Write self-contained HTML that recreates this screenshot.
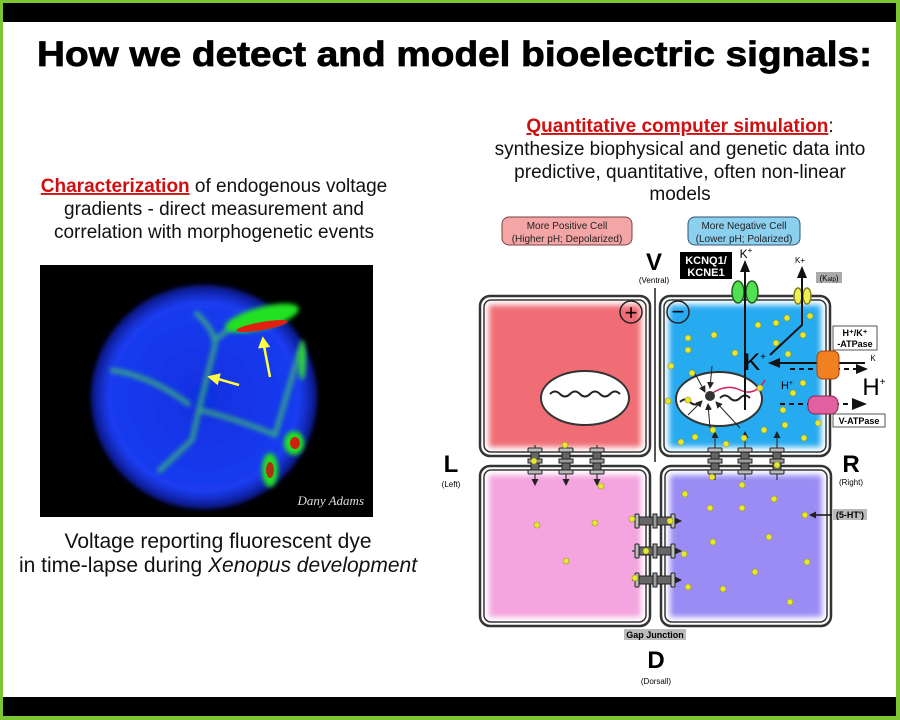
<!DOCTYPE html>
<html><head><meta charset="utf-8"><style>html,body{margin:0;padding:0;background:#fff}svg{display:block}</style></head><body>
<svg width="900" height="720" viewBox="0 0 900 720" xmlns="http://www.w3.org/2000/svg" font-family="Liberation Sans, sans-serif">
<defs>
<filter id="bl" x="-10%" y="-10%" width="120%" height="120%"><feGaussianBlur stdDeviation="3"/></filter>
<filter id="bl2" x="-30%" y="-30%" width="160%" height="160%"><feGaussianBlur stdDeviation="2.5"/></filter>
<radialGradient id="sph" cx="50%" cy="50%" r="50%"><stop offset="0" stop-color="#1030e0"/><stop offset="0.85" stop-color="#1a3cf0"/><stop offset="1" stop-color="#0a1680"/></radialGradient>
<marker id="ah" markerUnits="userSpaceOnUse" markerWidth="12" markerHeight="12" refX="10" refY="6" orient="auto"><path d="M0,1 L12,6 L0,11 z" fill="#111"/></marker>
<marker id="ahs" markerUnits="userSpaceOnUse" markerWidth="7" markerHeight="7" refX="6" refY="3.5" orient="auto"><path d="M0,0 L7,3.5 L0,7 z" fill="#222"/></marker>
<g id="dot"><circle r="3" fill="#e8e830" stroke="#999920" stroke-width="0.6"/></g>
<g id="gjv"><rect x="-4" y="-13" width="8" height="26" fill="#666" stroke="#222"/><rect x="-7" y="-13" width="14" height="4" rx="1" fill="#bbb" stroke="#222"/><rect x="-7" y="9" width="14" height="4" rx="1" fill="#bbb" stroke="#222"/><rect x="-7" y="-2" width="14" height="4" fill="#999" stroke="#222"/></g>
<g id="gjh"><rect x="-20" y="-4" width="40" height="8" fill="#666" stroke="#222"/><rect x="-20" y="-7" width="4" height="14" rx="1" fill="#bbb" stroke="#222"/><rect x="16" y="-7" width="4" height="14" rx="1" fill="#bbb" stroke="#222"/><rect x="-2" y="-7" width="4" height="14" fill="#999" stroke="#222"/></g>
</defs>
<rect width="900" height="720" fill="#fff"/>
<rect x="0" y="0" width="900" height="3" fill="#7cc634"/>
<rect x="0" y="0" width="3" height="720" fill="#7cc634"/>
<rect x="896" y="0" width="4" height="720" fill="#7cc634"/>
<rect x="0" y="716" width="900" height="4" fill="#7cc634"/>
<rect x="3" y="3" width="893" height="19" fill="#000"/>
<rect x="3" y="697" width="893" height="19" fill="#000"/>
<text x="37" y="66" font-size="35" font-weight="bold" stroke="#000" stroke-width="0.8" textLength="835" lengthAdjust="spacingAndGlyphs">How we detect and model bioelectric signals:</text>
<g font-size="19" text-anchor="middle" fill="#111">
<text x="214" y="192"><tspan fill="#d01010" font-weight="bold" text-decoration="underline">Characterization</tspan> of endogenous voltage</text>
<text x="214" y="215">gradients - direct measurement and</text>
<text x="214" y="238">correlation with morphogenetic events</text>
<text x="680" y="132"><tspan fill="#d01010" font-weight="bold" text-decoration="underline">Quantitative computer simulation</tspan>:</text>
<text x="680" y="155">synthesize biophysical and genetic data into</text>
<text x="680" y="178">predictive, quantitative, often non-linear</text>
<text x="680" y="200">models</text>
</g>
<g font-size="21" text-anchor="middle" fill="#111">
<text x="218" y="548">Voltage reporting fluorescent dye</text>
<text x="218" y="572">in time-lapse during <tspan font-style="italic">Xenopus development</tspan></text>
</g>
<!-- photo -->
<rect x="40" y="265" width="333" height="252" fill="#000"/>
<ellipse cx="204" cy="397" rx="113" ry="112" fill="url(#sph)" filter="url(#bl2)"/>
<g fill="none" stroke="#3cc070" stroke-width="5" opacity="0.75" filter="url(#bl2)">
<path d="M195,312 Q215,330 215,345 L200,405 L192,440 L158,472"/>
<path d="M110,370 Q150,375 190,405"/>
<path d="M200,410 Q240,420 275,435 L300,350"/>
<path d="M215,340 Q240,320 250,320"/>
</g>
<ellipse cx="262" cy="318" rx="38" ry="11" transform="rotate(-15 262 318)" fill="#20e020" filter="url(#bl2)"/>
<ellipse cx="262" cy="326" rx="26" ry="4" transform="rotate(-10 262 326)" fill="#e02010"/>
<ellipse cx="294" cy="443" rx="10" ry="12" fill="#20e020" filter="url(#bl2)"/>
<ellipse cx="295" cy="443" rx="5" ry="6" fill="#d02010"/>
<ellipse cx="270" cy="470" rx="8" ry="17" fill="#20e020" filter="url(#bl2)"/>
<ellipse cx="270" cy="470" rx="4" ry="8" fill="#b03010"/>
<ellipse cx="302" cy="360" rx="4" ry="20" fill="#30d040" filter="url(#bl2)"/>
<g stroke="#ffff40" stroke-width="2.5" fill="#ffff40">
<line x1="270" y1="377" x2="264" y2="346"/><path d="M260,347 L263,339 L268,346z"/>
<line x1="239" y1="385" x2="218" y2="379"/><path d="M219,375 L210,377 L217,383z"/>
</g>
<text x="364" y="505" font-family="Liberation Serif, serif" font-style="italic" font-size="13" fill="#ddd" text-anchor="end">Dany Adams</text>
<!-- labels -->
<rect x="502" y="217" width="130" height="28" rx="7" fill="#f4a6a6" stroke="#7a4040"/>
<text x="567" y="229" font-size="10" text-anchor="middle" fill="#222">More Positive Cell</text>
<text x="567" y="242" font-size="10" text-anchor="middle" fill="#222">(Higher pH; Depolarized)</text>
<rect x="688" y="217" width="112" height="28" rx="7" fill="#8cd0f0" stroke="#305070"/>
<text x="744" y="229" font-size="10" text-anchor="middle" fill="#222">More Negative Cell</text>
<text x="744" y="242" font-size="10" text-anchor="middle" fill="#222">(Lower pH; Polarized)</text>
<text x="654" y="270" font-size="24" font-weight="bold" text-anchor="middle">V</text>
<text x="654" y="283" font-size="8" text-anchor="middle">(Ventral)</text>
<text x="451" y="472" font-size="24" font-weight="bold" text-anchor="middle">L</text>
<text x="451" y="487" font-size="8" text-anchor="middle">(Left)</text>
<text x="851" y="472" font-size="24" font-weight="bold" text-anchor="middle">R</text>
<text x="851" y="485" font-size="8" text-anchor="middle">(Right)</text>
<text x="656" y="668" font-size="24" font-weight="bold" text-anchor="middle">D</text>
<text x="656" y="684" font-size="8" text-anchor="middle">(Dorsall)</text>
<rect x="624" y="629" width="62" height="11" fill="#bbb"/>
<text x="655" y="638" font-size="9" font-weight="bold" text-anchor="middle">Gap Junction</text>
<line x1="655" y1="288" x2="655" y2="462" stroke="#555" stroke-width="2"/>
<!-- cells -->
<g stroke="#333" fill="#fff">
<rect x="480" y="296" width="170" height="160" rx="10" stroke-width="2.5"/>
<rect x="484" y="300" width="162" height="152" rx="7" stroke-width="1.5"/>
<rect x="660" y="296" width="170" height="160" rx="10" stroke-width="2.5"/>
<rect x="664" y="300" width="162" height="152" rx="7" stroke-width="1.5"/>
<rect x="480" y="466" width="170" height="160" rx="10" stroke-width="2.5"/>
<rect x="484" y="470" width="162" height="152" rx="7" stroke-width="1.5"/>
<rect x="661" y="466" width="170" height="160" rx="10" stroke-width="2.5"/>
<rect x="665" y="470" width="162" height="152" rx="7" stroke-width="1.5"/>
</g>
<rect x="489" y="305" width="152" height="142" fill="#f06d75" filter="url(#bl)"/>
<rect x="669" y="305" width="152" height="142" fill="#28aaf0" filter="url(#bl)"/>
<rect x="489" y="475" width="152" height="142" fill="#f4a4de" filter="url(#bl)"/>
<rect x="670" y="475" width="152" height="142" fill="#9a8cf4" filter="url(#bl)"/>
<!-- plus minus -->
<circle cx="631" cy="312" r="11" fill="none" stroke="#222" stroke-width="1.5"/>
<text x="631" y="320" font-size="22" text-anchor="middle">+</text>
<circle cx="678" cy="312" r="11" fill="none" stroke="#222" stroke-width="1.5"/>
<text x="678" y="319" font-size="22" text-anchor="middle">−</text>
<!-- nuclei -->
<ellipse cx="585" cy="398" rx="44" ry="27" fill="#fff" stroke="#333" stroke-width="2"/>
<path d="M550,394 q5,-5 10,0 t10,0 t10,0 t10,0 t10,0 t10,0 t10,0" fill="none" stroke="#222" stroke-width="2"/>
<ellipse cx="719" cy="399" rx="43" ry="27" fill="#fff" stroke="#333" stroke-width="2"/>
<path d="M680,402 q5,-5 10,0 t10,0 M720,398 q5,-5 10,0 t10,0 t10,0" fill="none" stroke="#222" stroke-width="2"/>
<path d="M710,395 q15,-12 30,-5 t25,-10" fill="none" stroke="#d02060" stroke-width="1.5"/>
<circle cx="710" cy="396" r="5" fill="#333"/>
<g stroke="#222" stroke-width="1" marker-end="url(#ahs)">
<line x1="693" y1="370" x2="705" y2="392"/><line x1="712" y1="366" x2="710" y2="388"/><line x1="688" y1="415" x2="702" y2="401"/><line x1="710" y1="428" x2="708" y2="404"/><line x1="740" y1="428" x2="716" y2="402"/>
</g>
<!-- channels top -->
<ellipse cx="738" cy="292" rx="6" ry="11" fill="#50e050" stroke="#206020" stroke-width="1.5"/>
<ellipse cx="752" cy="292" rx="6" ry="11" fill="#50e050" stroke="#206020" stroke-width="1.5"/>
<ellipse cx="798" cy="296" rx="4" ry="8" fill="#f0f050" stroke="#808020" stroke-width="1.5"/>
<ellipse cx="807" cy="296" rx="4" ry="8" fill="#f0f050" stroke="#808020" stroke-width="1.5"/>
<line x1="745" y1="410" x2="745" y2="262" stroke="#111" stroke-width="2" marker-end="url(#ah)"/>
<polyline points="770,355 802,325 802,268" fill="none" stroke="#111" stroke-width="2" marker-end="url(#ah)"/>
<text x="746" y="258" font-size="12" text-anchor="middle">K<tspan font-size="8" dy="-5">+</tspan></text>
<text x="800" y="263" font-size="8" text-anchor="middle">K+</text>
<rect x="680" y="252" width="52" height="27" fill="#000"/>
<text x="706" y="264" font-size="11" font-weight="bold" fill="#fff" text-anchor="middle">KCNQ1/</text>
<text x="706" y="276" font-size="11" font-weight="bold" fill="#fff" text-anchor="middle">KCNE1</text>
<rect x="816" y="272" width="26" height="11" fill="#aaa"/>
<text x="829" y="281" font-size="8" text-anchor="middle">(K<tspan font-size="6">atp</tspan>)</text>
<text x="755" y="370" font-size="24" text-anchor="middle">K<tspan font-size="10" dy="-10">+</tspan></text>
<line x1="865" y1="363" x2="770" y2="363" stroke="#111" stroke-width="2" marker-end="url(#ah)"/>
<line x1="790" y1="369" x2="860" y2="369" stroke="#111" stroke-width="2" stroke-dasharray="5,4"/>
<path d="M856,364 L868,369 L856,374z" fill="#111"/>
<rect x="817" y="351" width="22" height="28" rx="6" fill="#f08020" stroke="#a04010"/>
<rect x="833" y="326" width="44" height="24" fill="#fff" stroke="#555"/>
<text x="855" y="336" font-size="9" font-weight="bold" text-anchor="middle">H⁺/K⁺</text>
<text x="855" y="347" font-size="9" font-weight="bold" text-anchor="middle">-ATPase</text>
<text x="873" y="361" font-size="8" text-anchor="middle">K</text>
<text x="874" y="395" font-size="24" text-anchor="middle">H<tspan font-size="10" dy="-10">+</tspan></text>
<text x="787" y="389" font-size="11" text-anchor="middle">H<tspan font-size="7" dy="-4">+</tspan></text>
<line x1="780" y1="404" x2="850" y2="404" stroke="#111" stroke-width="2" stroke-dasharray="5,4"/>
<path d="M852,398 L867,404 L852,410z" fill="#111"/>
<rect x="808" y="396" width="30" height="18" rx="7" fill="#e060a0" stroke="#902050"/>
<rect x="833" y="414" width="52" height="13" fill="#fff" stroke="#555"/>
<text x="859" y="424" font-size="9" font-weight="bold" text-anchor="middle">V-ATPase</text>
<!-- 5-HT -->
<rect x="833" y="509" width="34" height="11" fill="#bbb"/>
<text x="850" y="518" font-size="9" font-weight="bold" text-anchor="middle">(5-HT')</text>
<line x1="832" y1="515" x2="810" y2="515" stroke="#111" stroke-width="1.5" marker-end="url(#ahs)"/>
<!-- gap junctions -->
<g stroke="#333" stroke-width="1.2">
<line x1="535" y1="445" x2="535" y2="485" marker-end="url(#ahs)"/><line x1="566" y1="445" x2="566" y2="485" marker-end="url(#ahs)"/><line x1="597" y1="445" x2="597" y2="485" marker-end="url(#ahs)"/>
<line x1="715" y1="480" x2="715" y2="432" marker-end="url(#ahs)"/><line x1="745" y1="480" x2="745" y2="432" marker-end="url(#ahs)"/><line x1="777" y1="480" x2="777" y2="432" marker-end="url(#ahs)"/>
<line x1="632" y1="521" x2="681" y2="521" marker-end="url(#ahs)"/><line x1="632" y1="551" x2="681" y2="551" marker-end="url(#ahs)"/><line x1="632" y1="580" x2="681" y2="580" marker-end="url(#ahs)"/>
</g>
<use href="#gjv" x="535" y="461"/><use href="#gjv" x="566" y="461"/><use href="#gjv" x="597" y="461"/>
<use href="#gjv" x="715" y="461"/><use href="#gjv" x="745" y="461"/><use href="#gjv" x="777" y="461"/>
<use href="#gjh" x="655" y="521"/><use href="#gjh" x="655" y="551"/><use href="#gjh" x="655" y="580"/>
<!-- dots -->
<g>
<use href="#dot" x="565" y="445"/><use href="#dot" x="534" y="461"/><use href="#dot" x="601" y="486"/>
<use href="#dot" x="537" y="525"/><use href="#dot" x="595" y="523"/><use href="#dot" x="566" y="561"/>
<use href="#dot" x="632" y="519"/><use href="#dot" x="646" y="551"/><use href="#dot" x="635" y="578"/>
<use href="#dot" x="670" y="521"/><use href="#dot" x="684" y="554"/><use href="#dot" x="688" y="587"/>
<use href="#dot" x="712" y="477"/><use href="#dot" x="742" y="485"/><use href="#dot" x="777" y="465"/>
<use href="#dot" x="685" y="494"/><use href="#dot" x="710" y="508"/><use href="#dot" x="742" y="508"/><use href="#dot" x="774" y="499"/>
<use href="#dot" x="805" y="515"/><use href="#dot" x="713" y="542"/><use href="#dot" x="769" y="537"/><use href="#dot" x="807" y="562"/>
<use href="#dot" x="755" y="572"/><use href="#dot" x="723" y="589"/><use href="#dot" x="790" y="602"/>
<use href="#dot" x="671" y="366"/><use href="#dot" x="688" y="338"/><use href="#dot" x="714" y="335"/><use href="#dot" x="735" y="353"/>
<use href="#dot" x="688" y="350"/><use href="#dot" x="692" y="373"/><use href="#dot" x="776" y="323"/><use href="#dot" x="787" y="318"/>
<use href="#dot" x="810" y="316"/><use href="#dot" x="758" y="325"/><use href="#dot" x="776" y="343"/><use href="#dot" x="803" y="335"/>
<use href="#dot" x="788" y="354"/><use href="#dot" x="688" y="400"/><use href="#dot" x="668" y="401"/><use href="#dot" x="760" y="388"/>
<use href="#dot" x="803" y="383"/><use href="#dot" x="793" y="393"/><use href="#dot" x="783" y="410"/><use href="#dot" x="785" y="425"/>
<use href="#dot" x="764" y="430"/><use href="#dot" x="744" y="438"/><use href="#dot" x="713" y="430"/><use href="#dot" x="695" y="437"/>
<use href="#dot" x="681" y="442"/><use href="#dot" x="804" y="438"/><use href="#dot" x="726" y="444"/><use href="#dot" x="818" y="423"/>
</g>
</svg>
</body></html>
